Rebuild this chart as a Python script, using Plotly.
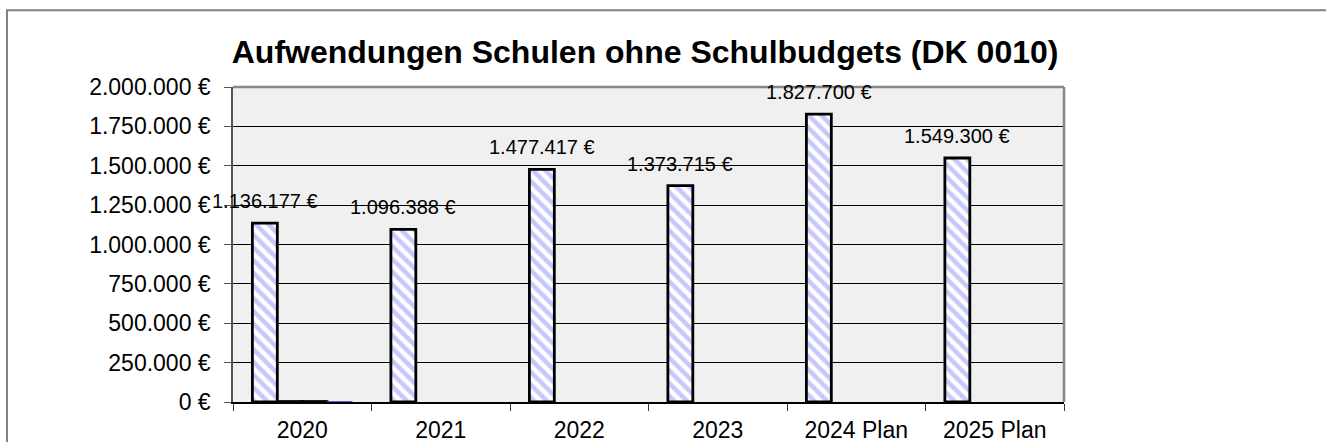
import plotly.graph_objects as go

categories = ["2020", "2021", "2022", "2023", "2024 Plan", "2025 Plan"]
aufwendungen = [1136177, 1096388, 1477417, 1373715, 1827700, 1549300]
serie_b = [4000, None, None, None, None, None]
serie_c = [4000, None, None, None, None, None]
serie_d = [3000, None, None, None, None, None]
label_texts = ["1.136.177 €", "1.096.388 €", "1.477.417 €", "1.373.715 €", "1.827.700 €", "1.549.300 €"]
y_ticks = [0, 250000, 500000, 750000, 1000000, 1250000, 1500000, 1750000, 2000000]
y_tick_labels = ["0 €", "250.000 €", "500.000 €", "750.000 €", "1.000.000 €", "1.250.000 €",
                 "1.500.000 €", "1.750.000 €", "2.000.000 €"]

FONT = "Arial, Liberation Sans, sans-serif"

fig = go.Figure()
fig.add_trace(go.Bar(
    x=categories, y=aufwendungen, name="Aufwendungen",
    marker=dict(color="white",
                pattern=dict(shape="\\", fgcolor="#8f8fff", bgcolor="white", size=9, solidity=0.5),
                line=dict(color="black", width=2.8)),
))
fig.add_trace(go.Bar(x=categories, y=serie_b, marker=dict(color="black", line=dict(color="black", width=2.5))))
fig.add_trace(go.Bar(x=categories, y=serie_c, marker=dict(color="black", line=dict(color="black", width=2.5))))
fig.add_trace(go.Bar(x=categories, y=serie_d, marker=dict(color="#7755cc", line=dict(color="#7755cc", width=1))))

# labels: positioned by category index (numeric-looking category names would be read as numbers)
for i, (v, t) in enumerate(zip(aufwendungen, label_texts)):
    fig.add_annotation(x=i, y=v, text=t, showarrow=False, xshift=-37.5, yshift=9,
                       yanchor="bottom", font=dict(family=FONT, size=20, color="black"))

# outer chart border
fig.add_shape(type="rect", xref="paper", yref="paper", x0=-0.272, x1=1.5, y0=-0.4, y1=1.244,
              line=dict(color="#808080", width=2), layer="below")
# plot area top/right border
fig.add_shape(type="line", xref="paper", yref="paper", x0=0, x1=1, y0=1, y1=1,
              line=dict(color="#888888", width=2.5))
fig.add_shape(type="line", xref="paper", yref="paper", x0=1, x1=1, y0=0, y1=1,
              line=dict(color="#888888", width=2.5))

fig.update_layout(
    width=1326, height=442,
    margin=dict(l=233, r=262, t=87, b=40),
    paper_bgcolor="white", plot_bgcolor="#f0f0f0",
    showlegend=False,
    barmode="group", bargap=0.28, bargroupgap=0,
    title=dict(text="<b>Aufwendungen Schulen ohne Schulbudgets (DK 0010)</b>",
               x=0.4865, xanchor="center", y=0.882, yanchor="middle",
               font=dict(family=FONT, size=32, color="black")),
    font=dict(family=FONT, color="black"),
)
fig.update_xaxes(
    type="category", automargin=False, tickangle=0, range=[-0.5, len(categories) - 0.5],
    showgrid=False, tickson="boundaries", ticks="outside", ticklen=7, tickcolor="#333333",
    showline=True, linecolor="black", linewidth=1.5,
    tickfont=dict(family=FONT, size=23, color="black"), ticklabelstandoff=7,
)
fig.update_yaxes(
    automargin=False,
    range=[0, 2000000], tickvals=y_ticks, ticktext=y_tick_labels,
    showgrid=True, gridcolor="black", gridwidth=1,
    ticks="outside", ticklen=7, tickcolor="#555555",
    showline=True, linecolor="#555555", linewidth=1.5, zeroline=False,
    tickfont=dict(family=FONT, size=23, color="black"), ticklabelstandoff=9,
)

fig.write_html("out.html", post_script="document.body.style.margin='0';",
               config={"displayModeBar": False})
